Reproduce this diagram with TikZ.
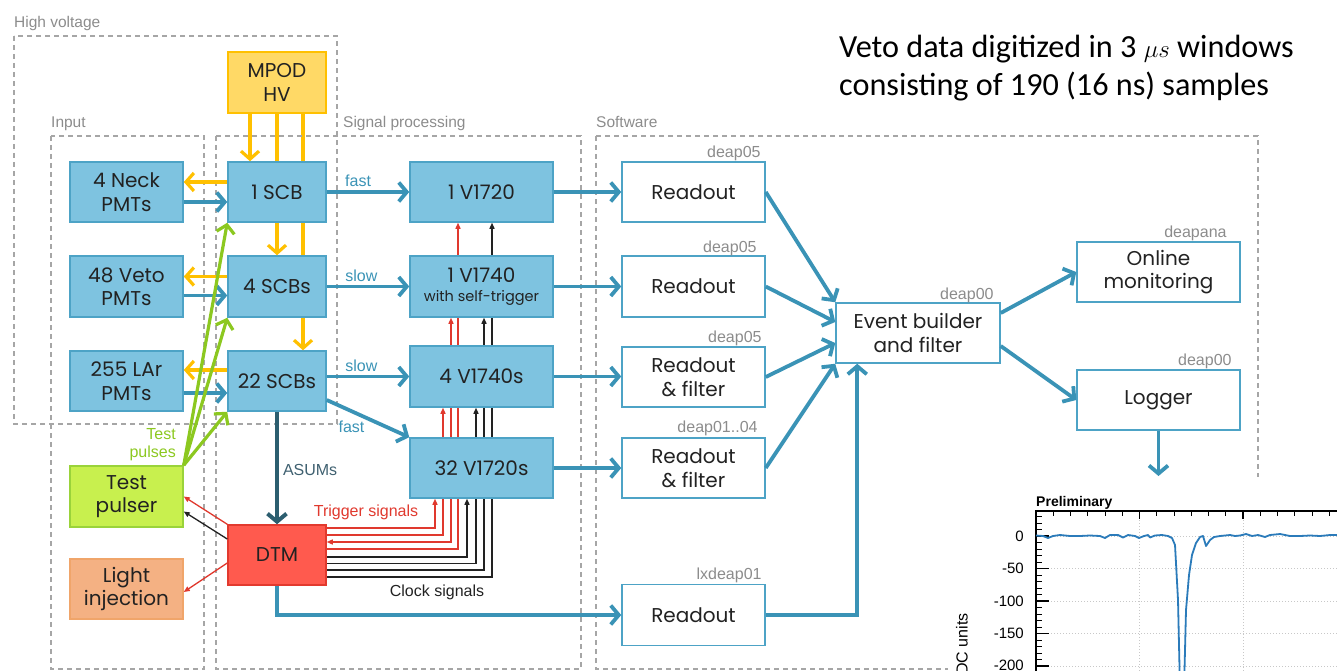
\documentclass[tikz,border=0pt]{standalone}
\usepackage{fontspec}
\setmainfont{Liberation Sans}
\newfontfamily\hdrfont{Carlito}
\newfontfamily\bxf{Poppins}
\usetikzlibrary{arrows.meta,calc}
\pgfdeclarelayer{back}
\pgfsetlayers{back,main}
\definecolor{bfill}{HTML}{7EC3E0}
\definecolor{bline}{HTML}{4DA3C6}
\definecolor{barr}{HTML}{3A93B6}
\definecolor{yfill}{HTML}{FFD966}
\definecolor{yline}{HTML}{FFC000}
\definecolor{garr}{HTML}{8CC820}
\definecolor{gfill}{HTML}{C8F04E}
\definecolor{gline}{HTML}{9AD33A}
\definecolor{ofill}{HTML}{F4B183}
\definecolor{oline}{HTML}{F0A56A}
\definecolor{rfill}{HTML}{FF5A4E}
\definecolor{rline}{HTML}{E23A2E}
\definecolor{rsig}{HTML}{E0392E}
\definecolor{asum}{HTML}{2C5E6F}
\definecolor{asumt}{HTML}{3F6070}
\definecolor{dgray}{HTML}{A6A6A6}
\definecolor{lgray}{HTML}{8C8C8C}
\definecolor{txt}{HTML}{222222}
\definecolor{wave}{HTML}{2B7BBA}
\definecolor{gridc}{HTML}{C8C8C8}
\begin{document}
\begin{tikzpicture}[x=1pt,y=-1pt,
  box/.style={draw, line width=1.5pt, inner sep=0pt, align=center, text=txt,
     font=\bxf\fontsize{20}{23.5}\selectfont},
  bluebox/.style={box, fill=bfill, draw=bline},
  swbox/.style={box, fill=white, draw=bline},
  dbox/.style={draw=dgray, line width=1.4pt, dash pattern=on 5pt off 4pt},
  grp/.style={anchor=base west, text=lgray, font=\fontsize{15.5}{16}\selectfont, inner sep=0pt},
  host/.style={anchor=base east, text=lgray, font=\fontsize{16}{16}\selectfont, inner sep=0pt},
  lbl/.style={font=\fontsize{16}{18}\selectfont, inner sep=1pt},
  bluearrow/.style={draw=barr, line width=3.8pt, -{Straight Barb[length=8pt,width=19pt]}},
  yarrow/.style={draw=yline, line width=3.2pt, -{Straight Barb[length=8pt,width=18pt]}},
  yl/.style={draw=yline, line width=3.2pt},
  garrow/.style={draw=garr, line width=3.2pt, -{Straight Barb[length=8pt,width=18pt]}},
  sigred/.style={draw=rsig, line width=1.3pt},
  sigblk/.style={draw=txt, line width=1.3pt},
  tri/.style={-{Triangle[length=6pt,width=5pt]}},
  gridl/.style={draw=gridc, line width=1pt, dotted}
]
\useasboundingbox (0,0) rectangle (1337,671);
\clip (0,0) rectangle (1337,671);
% group boxes
\draw[dbox] (14,36) rectangle (337,424);
\draw[dbox] (51,136) rectangle (204,669);
\draw[dbox] (216,136) rectangle (581,669);
\draw[dbox] (596,136) rectangle (1258,669);
\node[grp] (lhv) at (14,28) {High voltage};
\node[grp] (lin) at (51,128) {Input};
\node[grp] (lsp) at (343,128) {Signal processing};
\node[grp] (lsw) at (596,128) {Software};
% nodes
\node[box, fill=yfill, draw=yline, minimum width=98pt, minimum height=61pt] (mpod) at (277,82.5) {MPOD\\HV};
\node[bluebox, minimum width=113pt, minimum height=60pt] (neck) at (126.5,192) {4 Neck\\PMTs};
\node[bluebox, minimum width=113pt, minimum height=61pt] (veto) at (126.5,286.5) {48 Veto\\PMTs};
\node[bluebox, minimum width=113pt, minimum height=60pt] (lar) at (126.5,381) {255 LAr\\PMTs};
\node[bluebox, minimum width=98pt, minimum height=60pt] (scb1) at (277,192) {1 SCB};
\node[bluebox, minimum width=98pt, minimum height=61pt] (scb4) at (277,286.5) {4 SCBs};
\node[bluebox, minimum width=98pt, minimum height=60pt] (scb22) at (277,381) {22 SCBs};
\node[box, fill=gfill, draw=gline, minimum width=113pt, minimum height=61pt] (tp) at (126.5,496.5) {Test\\pulser};
\node[box, fill=ofill, draw=oline, minimum width=113pt, minimum height=60pt] (li) at (126.5,589) {Light\\injection};
\node[box, fill=rfill, draw=rline, minimum width=98pt, minimum height=60pt] (dtm) at (277,555) {DTM};
\node[bluebox, minimum width=143pt, minimum height=60pt] (v1720) at (481.5,192) {1 V1720};
\node[bluebox, minimum width=143pt, minimum height=61pt] (v1740) at (481.5,286.5) {1 V1740\\[-5pt]{\fontsize{14.5}{16}\selectfont with self-trigger}};
\node[bluebox, minimum width=143pt, minimum height=61pt] (v1740s) at (481.5,376.5) {4 V1740s};
\node[bluebox, minimum width=143pt, minimum height=60pt] (v1720s) at (481.5,468) {32 V1720s};
\node[swbox, minimum width=143pt, minimum height=60pt] (r1) at (693.5,192) {Readout};
\node[swbox, minimum width=143pt, minimum height=61pt] (r2) at (693.5,286.5) {Readout};
\node[swbox, minimum width=143pt, minimum height=60pt] (r3) at (693.5,377) {Readout\\\& filter};
\node[swbox, minimum width=143pt, minimum height=60pt] (r4) at (693.5,468) {Readout\\\& filter};
\node[swbox, minimum width=143pt, minimum height=61pt] (r5) at (693.5,615) {Readout};
\node[swbox, minimum width=164pt, minimum height=60pt] (eb) at (918,333) {Event builder\\and filter};
\node[swbox, minimum width=163pt, minimum height=60pt] (om) at (1158.5,272) {Online\\monitoring};
\node[swbox, minimum width=163pt, minimum height=60pt] (lg) at (1158.5,400) {Logger};
% host labels
\node[host] (h1) at ([xshift=-5pt,yshift=4pt]r1.north east) {deap05};
\node[host] (h2) at ([xshift=-9pt,yshift=3pt]r2.north east) {deap05};
\node[host] (h3) at ([xshift=-4pt,yshift=4pt]r3.north east) {deap05};
\node[host] (h4) at ([xshift=-8pt,yshift=5pt]r4.north east) {deap01..04};
\node[host] (h5) at ([xshift=-4pt,yshift=4pt]r5.north east) {lxdeap01};
\node[host] (h6) at ([xshift=-7pt,yshift=3pt]eb.north east) {deap00};
\node[host] (h7) at ([xshift=-14pt,yshift=4pt]om.north east) {deapana};
\node[host] (h8) at ([xshift=-9pt,yshift=4pt]lg.north east) {deap00};
% lines passing behind boxes
\begin{pgfonlayer}{back}
\draw[yl] (mpod.south) -- (scb1.north);
\draw[yl] ([xshift=26pt]mpod.south) -- ([xshift=26pt]scb4.north);
\draw[sigred,tri] ([yshift=27pt]dtm.east) -| ([xshift=-46.5pt]v1720s.south);
\draw[sigred,tri] ([yshift=20pt]dtm.east) -| ([xshift=-38.5pt]v1740s.south);
\draw[sigred,{Triangle[length=6pt,width=5pt]}-{Triangle[length=6pt,width=5pt]}] ([yshift=13pt]dtm.east) -| ([xshift=-30.5pt]v1740.south);
\draw[sigred,tri] ([yshift=6pt]dtm.east) -| ([xshift=-23.5pt]v1720.south);
\draw[sigblk,tri] ([yshift=-2pt]dtm.east) -| ([xshift=-14.5pt]v1720s.south);
\draw[sigblk,tri] ([yshift=-8.5pt]dtm.east) -| ([xshift=-5.5pt]v1740s.south);
\draw[sigblk,tri] ([yshift=-15pt]dtm.east) -| ([xshift=2.5pt]v1740.south);
\draw[sigblk,tri] ([yshift=-22pt]dtm.east) -| ([xshift=10.5pt]v1720.south);
\end{pgfonlayer}
\draw[yarrow] ([xshift=-27pt]mpod.south) -- ([xshift=-27pt]scb1.north);
\draw[yarrow] (scb1.south) -- (scb4.north);
\draw[yarrow] ([xshift=26pt]scb4.south) -- ([xshift=26pt]scb22.north);
\draw[yarrow] ([yshift=10pt]scb1.west) -- ([yshift=10pt]neck.east);
\draw[yarrow] ([yshift=10pt]scb4.west) -- ([yshift=10pt]veto.east);
\draw[yarrow] ([yshift=11pt]scb22.west) -- ([yshift=11pt]lar.east);
% PMT signals
\draw[bluearrow] ([yshift=-10pt]neck.east) -- ([yshift=-10pt]scb1.west);
\draw[bluearrow] ([yshift=-9pt]veto.east) -- ([yshift=-9pt]scb4.west);
\draw[bluearrow] ([yshift=-12pt]lar.east) -- ([yshift=-12pt]scb22.west);
% test pulses
\draw[garrow] (tp.north east) -- (scb1.south west);
\draw[garrow] (tp.north east) -- (scb4.south west);
\draw[garrow] (tp.north east) -- (scb22.south west);
\node[lbl, text=garr, align=right, anchor=east] (ltp) at (177,445) {Test\\pulses};
% SCB to digitizers
\draw[bluearrow] (scb1.east) -- node[lbl, pos=0.38, above=2pt, text=barr] (lf1) {fast} (v1720.west);
\draw[bluearrow] (scb4.east) -- node[lbl, pos=0.42, above=2pt, text=barr] (ls1) {slow} (v1740.west);
\draw[bluearrow] (scb22.east |- v1740s.west) -- node[lbl, pos=0.42, above=2pt, text=barr] (ls2) {slow} (v1740s.west);
\draw[bluearrow] ([yshift=-19pt]scb22.east) -- node[lbl, pos=0.3, below=7pt, text=barr] (lf2) {fast} (v1720s.north west);
% digitizers to readout
\draw[bluearrow] (v1720.east) -- (r1.west);
\draw[bluearrow] (v1740.east) -- (r2.west);
\draw[bluearrow] (v1740s.east) -- (r3.west |- v1740s.east);
\draw[bluearrow] (v1720s.east) -- (r4.west);
% readouts to event builder
\draw[bluearrow] (r1.east) -- (eb.north west);
\draw[bluearrow] (r2.east) -- ([yshift=11pt]eb.west);
\draw[bluearrow] (r3.east) -- ([yshift=-10pt]eb.west);
\draw[bluearrow] (r4.east) -- (eb.south west);
\draw[bluearrow] (r5.east) -| ([xshift=22pt]eb.south west);
\draw[bluearrow] ([yshift=20pt]eb.east) -- (om.west);
\draw[bluearrow] ([yshift=-13pt]eb.east) -- (lg.west);
\coordinate (lgend) at (1158.5,476);
\draw[bluearrow] (lg.south) -- (lgend);
% DTM
\draw[draw=asum, line width=4pt, -{Straight Barb[length=8pt,width=19pt]}] (scb22.south) -- node[lbl, right=3pt, text=asumt, pos=0.52] (lasum) {ASUMs} (dtm.north);
\draw[sigred,tri] (dtm.north west) -- (tp.east);
\draw[sigblk,tri] ([yshift=16pt]dtm.west) -- ([yshift=-15pt]tp.east);
\draw[sigred,tri] ([yshift=-8pt]dtm.west) -- ([yshift=-3pt]li.east);
\draw[bluearrow] (dtm.south) |- (r5.west);
\node[lbl, text=rsig] (ltrig) at (366,512) {Trigger signals};
\node[lbl, text=txt] (lclk) at (437,592) {Clock signals};
% header
\node[anchor=base west, inner sep=0pt, font=\hdrfont\fontsize{32.2}{36}\selectfont] (hd1) at (839,58) {Veto data digitized in 3 $\mu s$ windows};
\node[anchor=base west, inner sep=0pt, font=\hdrfont\fontsize{32.2}{36}\selectfont] (hd2) at (839,96) {consisting of 190 (16 ns) samples};
% plot
\fill[white] (948,477) rectangle (1337,671);
\node[anchor=base west, inner sep=0pt, font=\bfseries\fontsize{14}{14}\selectfont] (pre) at (1036,506) {Preliminary};
\foreach \yy in {536,568.5,601,633.5,666} \draw[gridl] (1036,\yy) -- (1337,\yy);
\foreach \xx in {1139.5,1243} \draw[gridl] (\xx,511) -- (\xx,671);
\foreach \yy in {516.5,523,...,671} \draw[line width=1pt] (1036,\yy) -- (1042,\yy);
\foreach \yy in {536,568.5,601,633.5,666} \draw[line width=1.2pt] (1036,\yy) -- (1049,\yy);
\foreach \xx in {1053.25,1070.5,...,1337} \draw[line width=1pt] (\xx,511) -- (\xx,516);
\foreach \xx in {1139.5,1243} \draw[line width=1.2pt] (\xx,511) -- (\xx,519);
\draw[line width=2.2pt] (1036,672) -- (1036,511) -- (1338,511);
\node[anchor=east, inner sep=0pt, font=\fontsize{15}{15}\selectfont] (t0) at (1024,536) {0};
\node[anchor=east, inner sep=0pt, font=\fontsize{15}{15}\selectfont] (t1) at (1024,568.5) {-50};
\node[anchor=east, inner sep=0pt, font=\fontsize{15}{15}\selectfont] (t2) at (1024,601) {-100};
\node[anchor=east, inner sep=0pt, font=\fontsize{15}{15}\selectfont] (t3) at (1024,633.5) {-150};
\node[anchor=east, inner sep=0pt, font=\fontsize{15}{15}\selectfont] (t4) at (1024,665) {-200};
\node[rotate=90, anchor=east, inner sep=0pt, font=\fontsize{16}{16}\selectfont] (yl) at (962,613) {ADC units};
\draw[wave, line width=1.8pt, line join=round] (1036,535.5) -- (1043,536) -- (1048,538) -- (1053,536) -- (1060,535) -- (1070,536) -- (1080,536) -- (1090,535.5) -- (1100,536) -- (1105,538) -- (1110,535) -- (1118,535) -- (1123,537.5) -- (1128,535) -- (1135,536) -- (1139,538) -- (1144,536) -- (1148,535) -- (1150,537.5) -- (1155,535.5) -- (1162,535) -- (1168,536) -- (1172,538) -- (1175,545) -- (1178,600) -- (1180,690) -- (1184,690) -- (1186,610) -- (1189,575) -- (1192,555) -- (1196,543) -- (1200,537) -- (1203,536) -- (1206,546) -- (1210,540) -- (1214,537) -- (1220,536) -- (1230,535) -- (1235,536) -- (1240,535.5) -- (1246,534) -- (1252,536) -- (1258,535) -- (1265,537) -- (1270,535) -- (1280,534) -- (1290,536) -- (1300,536) -- (1310,535.5) -- (1320,536) -- (1330,535) -- (1340,535);
\end{tikzpicture}
\end{document}
